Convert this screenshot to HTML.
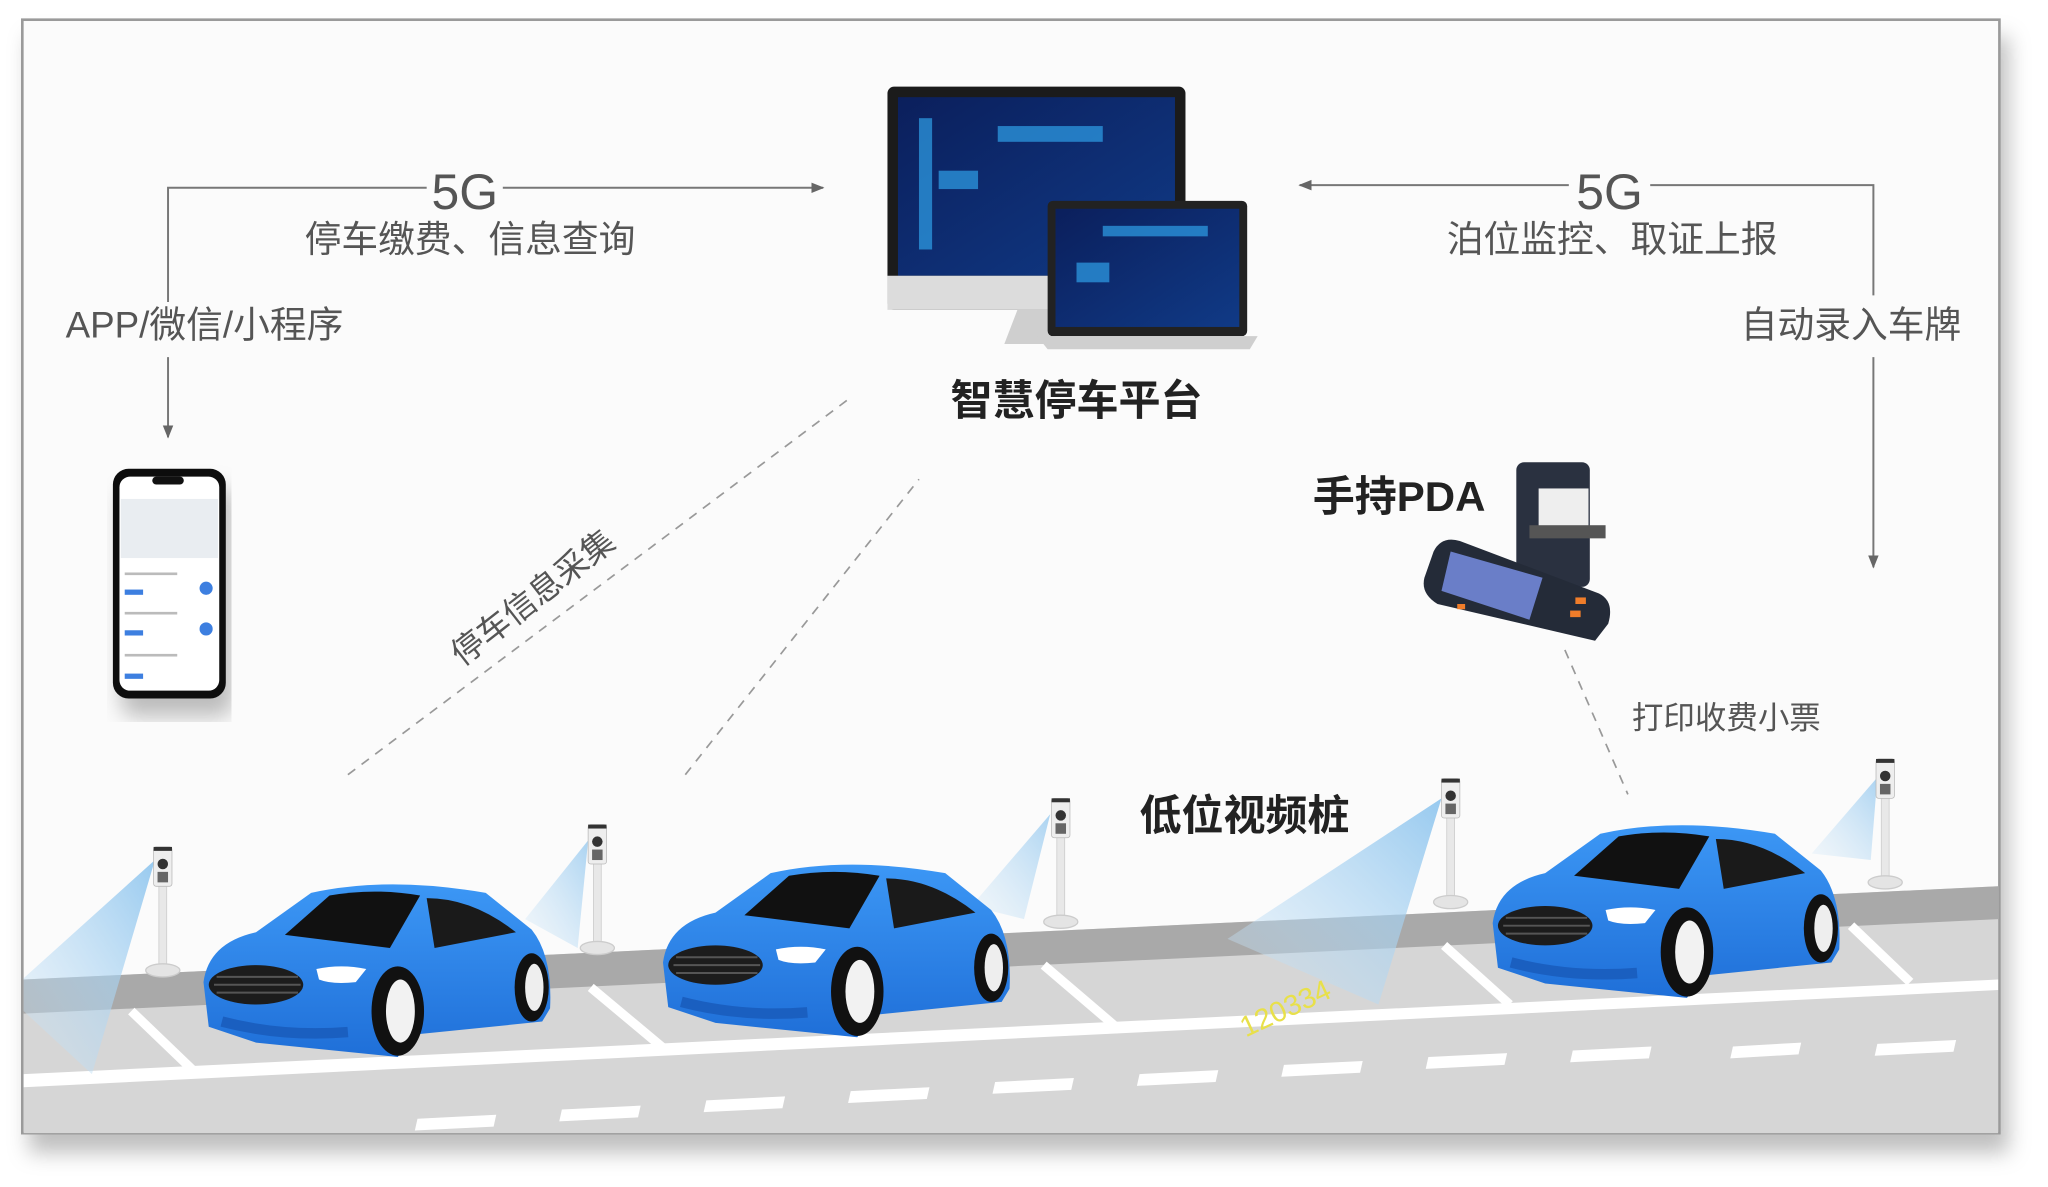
<!DOCTYPE html>
<html><head><meta charset="utf-8"><style>
html,body{margin:0;padding:0;background:#fff;width:2048px;height:1187px;overflow:hidden}
svg{display:block}
text{font-family:"Liberation Sans","Noto Sans CJK SC",sans-serif}
</style></head><body>
<svg width="2048" height="1187" viewBox="0 0 1560 904" preserveAspectRatio="none" xmlns="http://www.w3.org/2000/svg">
<defs>
<linearGradient id="cone" x1="1" y1="0" x2="0" y2="1"><stop offset="0" stop-color="#8cc4ee" stop-opacity=".9"/><stop offset="1" stop-color="#cfe6f7" stop-opacity=".3"/></linearGradient>
<linearGradient id="blue" x1="0" y1="0" x2="0" y2="1"><stop offset="0" stop-color="#3c97f5"/><stop offset="1" stop-color="#1f6fd8"/></linearGradient>
<linearGradient id="scr" x1="0" y1="0" x2="1" y2="1"><stop offset="0" stop-color="#0b1f5c"/><stop offset="1" stop-color="#103a86"/></linearGradient>
<filter id="sh" x="-5%" y="-5%" width="110%" height="115%"><feDropShadow dx="6" dy="14" stdDeviation="8" flood-color="#000" flood-opacity=".25"/></filter>
<marker id="ar" markerWidth="10" markerHeight="10" refX="9" refY="5" orient="auto" markerUnits="userSpaceOnUse"><path d="M0,1 L10,5 L0,9 Z" fill="#666"/></marker>
<g id="car">
<path d="M0,78 Q4,48 40,40 L82,10 Q140,-3 215,10 L250,38 Q266,58 264,98 L258,108 L160,118 L148,135 L40,124 L4,112 Z" fill="url(#blue)"/>
<path d="M62,42 L96,12 Q130,6 165,12 L142,52 Z" fill="#111"/>
<path d="M170,14 Q205,14 238,40 L176,52 Z" fill="#1a1a1a"/>
<ellipse cx="40" cy="80" rx="36" ry="15" fill="#1c1c1c"/>
<path d="M10,74 H72 M8,80 H74 M10,86 H72" stroke="#555" stroke-width="1.5"/>
<path d="M86,68 Q105,64 124,68 L116,78 Q98,80 88,76 Z" fill="#fff"/>
<path d="M14,108 Q60,120 110,116" stroke="#1a5fc0" stroke-width="8" fill="none"/>
<ellipse cx="148" cy="100" rx="20" ry="34" fill="#111"/>
<ellipse cx="150" cy="100" rx="11" ry="24" fill="#f2f2f2"/>
<ellipse cx="250" cy="82" rx="13" ry="26" fill="#111"/>
<ellipse cx="252" cy="82" rx="7" ry="18" fill="#eee"/>
</g>
<g id="post">
<rect x="-3" y="12" width="6" height="82" fill="#e8e8e8" stroke="#ccc" stroke-width=".6"/>
<rect x="-7" y="0" width="14" height="30" rx="2" fill="#eee" stroke="#bbb" stroke-width=".6"/>
<rect x="-7" y="0" width="14" height="3" fill="#333"/>
<circle cx="0" cy="13" r="4" fill="#333"/>
<rect x="-4" y="19" width="8" height="8" fill="#666"/>
<ellipse cx="0" cy="94" rx="13" ry="5" fill="#e4e4e4" stroke="#ccc"/>
</g>
</defs>
<rect x="17" y="15" width="1506" height="848" fill="#fbfbfb" stroke="#9a9a9a" stroke-width="2" filter="url(#sh)"/>
<polygon points="18,746 1522,675 1522,863 18,863" fill="#d6d6d6"/>
<polygon points="18,746 1522,675 1522,700 18,772" fill="#a9a9a9"/>
<polygon points="18,818 1522,746 1522,754 18,828" fill="#fff"/>
<g fill="#fff">
<polygon points="318,852 378,849 376,858 316,861"/><polygon points="428,845 488,842 486,851 426,854"/><polygon points="538,838 598,835 596,844 536,847"/><polygon points="648,831 708,828 706,837 646,840"/><polygon points="758,824 818,821 816,830 756,833"/><polygon points="868,818 928,815 926,824 866,827"/><polygon points="978,811 1038,808 1036,817 976,820"/><polygon points="1088,805 1148,802 1146,811 1086,814"/><polygon points="1198,800 1258,797 1256,806 1196,809"/><polygon points="1320,797 1372,794 1370,803 1318,806"/><polygon points="1430,795 1490,792 1488,801 1428,804"/>
</g>
<g stroke="#fff" stroke-width="7">
<line x1="100" y1="770" x2="150" y2="818"/><line x1="450" y1="752" x2="505" y2="798"/><line x1="795" y1="735" x2="850" y2="782"/><line x1="1100" y1="720" x2="1150" y2="765"/><line x1="1410" y1="705" x2="1455" y2="748"/>
</g>
<text x="940" y="770" fill="#e8e04a" font-size="22" transform="rotate(-25 990 760)">120334</text>
<polygon points="118,655 18,745 18,770 70,818" fill="url(#cone)"/>
<polygon points="448,640 400,700 440,722" fill="url(#cone)" opacity=".8"/>
<polygon points="800,620 740,690 780,700" fill="url(#cone)" opacity=".8"/>
<polygon points="1098,608 935,715 1050,765" fill="url(#cone)"/>
<polygon points="1430,592 1380,650 1425,655" fill="url(#cone)" opacity=".8"/>
<use href="#post" x="124" y="645"/>
<use href="#post" x="455" y="628"/>
<use href="#post" x="808" y="608"/>
<use href="#post" x="1105" y="593"/>
<use href="#post" x="1436" y="578"/>
<use href="#car" x="155" y="670"/>
<use href="#car" x="505" y="655"/>
<use href="#car" x="1137" y="625"/>
<g stroke="#777" stroke-width="1.5" fill="none">
<polyline points="325,143 128,143 128,230"/>
<line x1="383" y1="143" x2="627" y2="143" marker-end="url(#ar)"/>
<line x1="128" y1="272" x2="128" y2="333" marker-end="url(#ar)"/>
<line x1="1195" y1="141" x2="990" y2="141" marker-end="url(#ar)"/>
<polyline points="1257,141 1427,141 1427,225"/>
<line x1="1427" y1="272" x2="1427" y2="432" marker-end="url(#ar)"/>
</g>
<g stroke="#999" stroke-width="1.3" stroke-dasharray="7,6" fill="none">
<line x1="265" y1="590" x2="645" y2="305"/>
<line x1="522" y1="590" x2="700" y2="365"/>
<line x1="1192" y1="495" x2="1240" y2="605"/>
</g>
<g fill="#555">
<text x="354" y="159" font-size="38" text-anchor="middle">5G</text>
<text x="1226" y="159" font-size="38" text-anchor="middle">5G</text>
<text x="358" y="192" font-size="28" text-anchor="middle">停车缴费、信息查询</text>
<text x="1228" y="192" font-size="28" text-anchor="middle">泊位监控、取证上报</text>
<text x="50" y="257" font-size="28">APP/微信/小程序</text>
<text x="1326" y="257" font-size="28">自动录入车牌</text>
<text x="1243" y="555" font-size="24">打印收费小票</text>
<text x="0" y="0" font-size="25" transform="translate(352,508) rotate(-38)">停车信息采集</text>
</g>
<g fill="#222" font-weight="bold">
<text x="820" y="316" font-size="32" text-anchor="middle">智慧停车平台</text>
<text x="1000" y="389" font-size="32">手持PDA</text>
<text x="868" y="632" font-size="32">低位视频桩</text>
</g>
<rect x="676" y="66" width="227" height="170" rx="5" fill="#1b1b1b"/>
<rect x="684" y="74" width="211" height="136" fill="url(#scr)"/>
<rect x="676" y="210" width="227" height="26" fill="#dcdcdc"/>
<polygon points="775,236 800,236 805,262 765,262" fill="#cfcfcf"/>
<g fill="#2fa0e8" opacity=".7"><rect x="715" y="130" width="30" height="14"/><rect x="760" y="96" width="80" height="12"/><rect x="700" y="90" width="10" height="100"/></g>
<rect x="798" y="153" width="152" height="103" rx="4" fill="#222"/>
<rect x="804" y="159" width="140" height="90" fill="url(#scr)"/>
<g fill="#2fa0e8" opacity=".7"><rect x="820" y="200" width="25" height="15"/><rect x="840" y="172" width="80" height="8"/></g>
<polygon points="790,256 958,256 952,266 798,266" fill="#cfcfcf"/>
<rect x="86" y="357" width="86" height="175" rx="12" fill="#111" filter="url(#sh)"/>
<rect x="91" y="363" width="76" height="163" rx="8" fill="#fff"/>
<rect x="92" y="380" width="74" height="45" fill="#e9edf1"/>
<rect x="116" y="363" width="24" height="6" rx="3" fill="#111"/>
<g fill="#3d7fe0"><circle cx="157" cy="448" r="5"/><circle cx="157" cy="479" r="5"/><rect x="95" y="449" width="14" height="4"/><rect x="95" y="480" width="14" height="4"/><rect x="95" y="513" width="14" height="4"/></g>
<g fill="#bbb"><rect x="95" y="436" width="40" height="2"/><rect x="95" y="466" width="40" height="2"/><rect x="95" y="498" width="40" height="2"/></g>
<rect x="1155" y="352" width="56" height="95" rx="6" fill="#2a3140"/>
<rect x="1172" y="372" width="38" height="30" fill="#eee"/>
<rect x="1165" y="400" width="58" height="10" fill="#555"/>
<path d="M1092,420 Q1098,408 1112,412 L1218,452 Q1230,458 1225,475 L1215,488 L1095,460 Q1082,452 1085,440 Z" fill="#242b38"/>
<polygon points="1105,420 1175,440 1165,472 1098,450" fill="#6a7ec8"/>
<g fill="#f07d2a"><rect x="1200" y="455" width="8" height="5"/><rect x="1196" y="465" width="8" height="5"/><rect x="1110" y="460" width="6" height="4"/></g>
</svg>
</body></html>
